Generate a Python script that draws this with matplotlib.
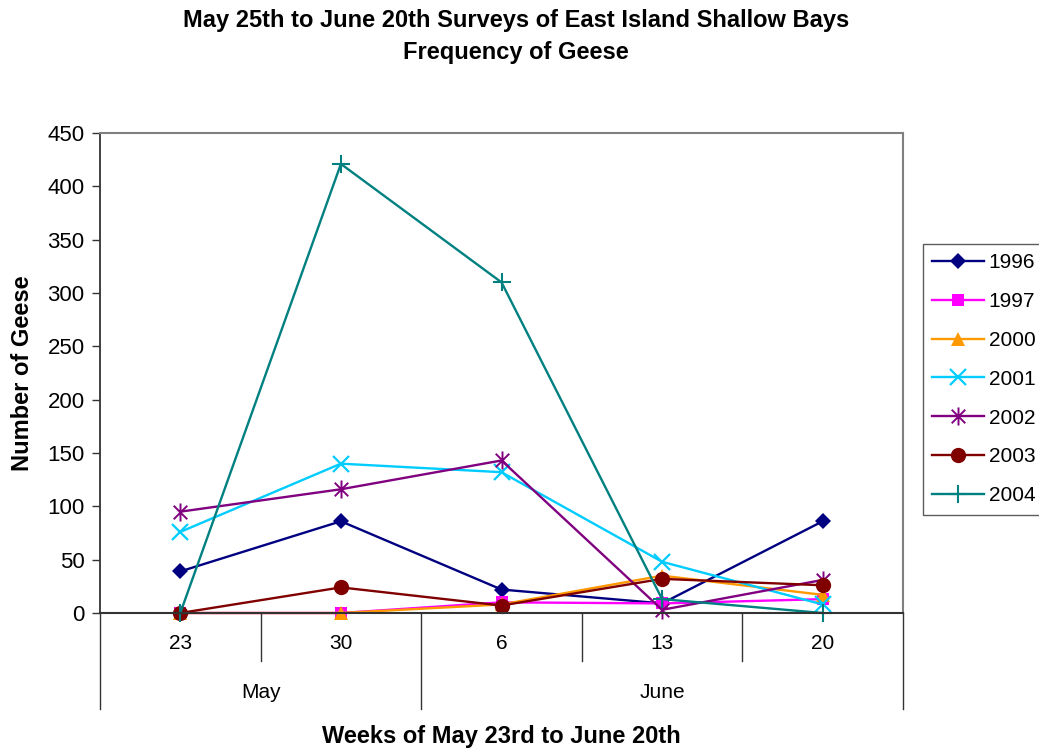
import matplotlib
matplotlib.use("Agg")
import matplotlib.pyplot as plt
import matplotlib.transforms as mtransforms
from matplotlib.path import Path
import numpy as np

plt.rcParams['font.family'] = ['Liberation Sans', 'DejaVu Sans']

# Survey weeks and the month each falls in
weeks = ["23", "30", "6", "13", "20"]
months = ["May", "June"]
month_spans = [(0, 1), (2, 4)]

# Geese counted per survey week, by year
geese_1996 = [39, 86, 22, 9, 86]
geese_1997 = [0, 0, 10, 9, 13]
geese_2000 = [0, 0, 8, 35, 17]
geese_2001 = [76, 140, 132, 48, 8]
geese_2002 = [95, 116, 143, 3, 31]
geese_2003 = [0, 24, 7, 32, 26]
geese_2004 = [0, 421, 310, 13, 0]

years = ["1996", "1997", "2000", "2001", "2002", "2003", "2004"]
series = [geese_1996, geese_1997, geese_2000, geese_2001,
          geese_2002, geese_2003, geese_2004]

# Asterisk marker: vertical bar plus two diagonals
star = Path([(0, -1), (0, 1), (-0.75, -0.75), (0.75, 0.75),
             (-0.75, 0.75), (0.75, -0.75)],
            [Path.MOVETO, Path.LINETO, Path.MOVETO, Path.LINETO,
             Path.MOVETO, Path.LINETO])

styles = [
    dict(color="#000080", marker="D", ms=8, mew=0),
    dict(color="#FF00FF", marker="s", ms=9, mew=0),
    dict(color="#FF9900", marker="^", ms=10, mew=0),
    dict(color="#00CCFF", marker="x", ms=11, mew=1.6),
    dict(color="#800080", marker=star, ms=13, mew=1.4),
    dict(color="#800000", marker="o", ms=11, mew=0),
    dict(color="#008080", marker="+", ms=13, mew=1.5),
]

fig = plt.figure(figsize=(10.39, 7.49), dpi=100)
W, H = 1039, 749
ax = fig.add_axes([100 / W, (H - 613) / H, 803 / W, 480 / H])

x = np.arange(len(weeks))
for yr, vals, st in zip(years, series, styles):
    ax.plot(x, vals, lw=1.7, label=yr, clip_on=False, **st)

ax.set_xlim(-0.5, len(weeks) - 0.5)
ax.set_ylim(0, 450)
ax.set_yticks(np.arange(0, 451, 50))
ax.tick_params(axis="y", direction="out", length=6, width=1, labelsize=16,
               pad=5, color="#333333")
ax.set_ylabel("Number of Geese", fontsize=17, fontweight="bold", labelpad=10)

for side in ("top", "right"):
    ax.spines[side].set_color("#808080")
    ax.spines[side].set_linewidth(1.5)
ax.spines["left"].set_color("#333333")
ax.spines["bottom"].set_color("#333333")
ax.spines["left"].set_linewidth(1.3)
ax.spines["bottom"].set_linewidth(1.5)

# Two-level category axis: week labels above month labels
ax.set_xticks(x)
ax.set_xticklabels(weeks, fontsize=15)
ax.tick_params(axis="x", length=0, pad=15)

trans = mtransforms.blended_transform_factory(ax.transData, ax.transAxes)
short = 48 / 480
long_ = 96 / 480
month_edges = {-0.5} | {hi + 0.5 for _, hi in month_spans}
for b in np.arange(-0.5, len(weeks), 1.0):
    depth = long_ if b in month_edges else short
    ax.plot([b, b], [0, -depth], transform=trans, color="#333333",
            lw=1.0, clip_on=False)
for name, (lo, hi) in zip(months, month_spans):
    ax.text((lo + hi) / 2, -79 / 480, name, transform=trans, fontsize=15,
            ha="center", va="center")

ax.text(0.5, -123 / 480, "Weeks of May 23rd to June 20th", transform=ax.transAxes,
        fontsize=17, fontweight="bold", ha="center", va="center")

fig.text(516 / W, 1 - 21 / H, "May 25th to June 20th Surveys of East Island Shallow Bays",
         fontsize=17, fontweight="bold", ha="center", va="center")
fig.text(516 / W, 1 - 52 / H, "Frequency of Geese",
         fontsize=17, fontweight="bold", ha="center", va="center")

leg = fig.legend(loc="upper left", bbox_to_anchor=(923 / W, 1 - 244 / H),
                 fontsize=15, frameon=True, fancybox=False, edgecolor="#333333",
                 handlelength=2.5, handletextpad=0.2, labelspacing=0.95,
                 borderpad=0.45, borderaxespad=0)
leg.get_frame().set_linewidth(1.0)

fig.savefig("out.png", dpi=100)
